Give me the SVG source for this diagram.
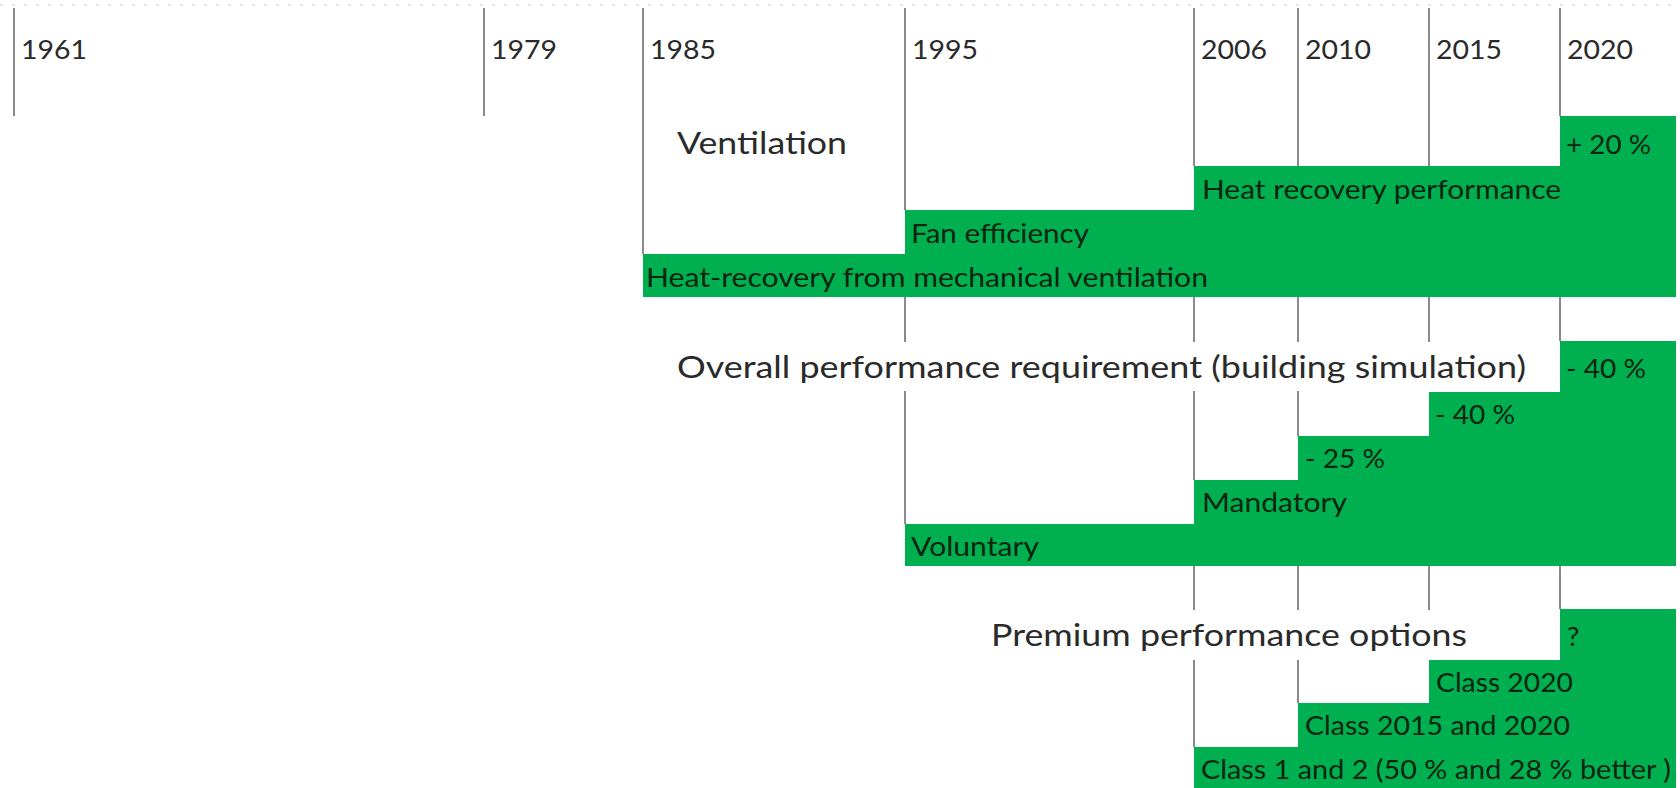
<svg xmlns="http://www.w3.org/2000/svg" width="1680" height="788" viewBox="0 0 1680 788">
<style>
text{font-family:Lato,"Liberation Sans",sans-serif}
.yr{font-size:27.5px;fill:#2a2a2a}
.ttl{font-size:31px;fill:#2a2a2a}
.lbl{font-size:27.5px;fill:#0c2410}
.band{fill:#00B050}
.grid{stroke:#8a8a8a;stroke-width:2;fill:none}
.dots{stroke:#e4e4e4;stroke-width:2;stroke-dasharray:3 9}
</style>
<rect width="1680" height="788" fill="#ffffff"/>
<line class="dots" x1="0" y1="5" x2="1680" y2="5"/>

<g id="gridlines">
<path class="grid" d="M14,8V116 M484,8V116 M643,8V254 M905,8V210 M1194,8V166 M1298,8V166 M1429,8V166 M1560,8V116"/>
<path class="grid" d="M905,297V342 M905,391V524 M1194,297V342 M1194,391V480 M1298,297V342 M1298,391V436 M1429,297V342 M1560,297V341"/>
<path class="grid" d="M1194,566V610 M1194,660V747 M1298,566V610 M1298,660V703 M1429,566V610 M1560,566V609"/>
</g>

<g id="timeline">
<text class="yr" x="21" y="59" textLength="66" lengthAdjust="spacingAndGlyphs">1961</text>
<text class="yr" x="491" y="59" textLength="66" lengthAdjust="spacingAndGlyphs">1979</text>
<text class="yr" x="650" y="59" textLength="66" lengthAdjust="spacingAndGlyphs">1985</text>
<text class="yr" x="912" y="59" textLength="66" lengthAdjust="spacingAndGlyphs">1995</text>
<text class="yr" x="1201" y="59" textLength="66" lengthAdjust="spacingAndGlyphs">2006</text>
<text class="yr" x="1305" y="59" textLength="66" lengthAdjust="spacingAndGlyphs">2010</text>
<text class="yr" x="1436" y="59" textLength="66" lengthAdjust="spacingAndGlyphs">2015</text>
<text class="yr" x="1567" y="59" textLength="66" lengthAdjust="spacingAndGlyphs">2020</text>
</g>

<g id="ventilation">
<polygon class="band" points="643,297 643,254 905,254 905,210 1194,210 1194,166 1560,166 1560,116 1676,116 1676,297"/>
<text class="ttl" x="677" y="154" textLength="170" lengthAdjust="spacingAndGlyphs">Ventilation</text>
<text class="lbl" x="1566" y="154" textLength="85" lengthAdjust="spacingAndGlyphs">+ 20 %</text>
<text class="lbl" x="1202" y="199" textLength="359" lengthAdjust="spacingAndGlyphs">Heat recovery performance</text>
<text class="lbl" x="911" y="243" textLength="178" lengthAdjust="spacingAndGlyphs">Fan efficiency</text>
<text class="lbl" x="646" y="287" textLength="562" lengthAdjust="spacingAndGlyphs">Heat-recovery from mechanical ventilation</text>
</g>

<g id="overall-performance">
<polygon class="band" points="905,566 905,524 1194,524 1194,480 1298,480 1298,436 1429,436 1429,392 1560,392 1560,341 1676,341 1676,566"/>
<text class="ttl" x="677" y="378" textLength="849" lengthAdjust="spacingAndGlyphs">Overall performance requirement (building simulation)</text>
<text class="lbl" x="1566" y="378" textLength="80" lengthAdjust="spacingAndGlyphs">- 40 %</text>
<text class="lbl" x="1435" y="424" textLength="80" lengthAdjust="spacingAndGlyphs">- 40 %</text>
<text class="lbl" x="1305" y="468" textLength="80" lengthAdjust="spacingAndGlyphs">- 25 %</text>
<text class="lbl" x="1202" y="512" textLength="145" lengthAdjust="spacingAndGlyphs">Mandatory</text>
<text class="lbl" x="911" y="556" textLength="128" lengthAdjust="spacingAndGlyphs">Voluntary</text>
</g>

<g id="premium-options">
<polygon class="band" points="1194,788 1194,747 1298,747 1298,703 1429,703 1429,660 1560,660 1560,609 1676,609 1676,788"/>
<text class="ttl" x="991" y="646" textLength="476" lengthAdjust="spacingAndGlyphs">Premium performance options</text>
<text class="lbl" x="1567" y="646">?</text>
<text class="lbl" x="1436" y="692" textLength="137" lengthAdjust="spacingAndGlyphs">Class 2020</text>
<text class="lbl" x="1305" y="735" textLength="265" lengthAdjust="spacingAndGlyphs">Class 2015 and 2020</text>
<text class="lbl" x="1201" y="779" textLength="470" lengthAdjust="spacingAndGlyphs">Class 1 and 2 (50 % and 28 % better )</text>
</g>
</svg>
